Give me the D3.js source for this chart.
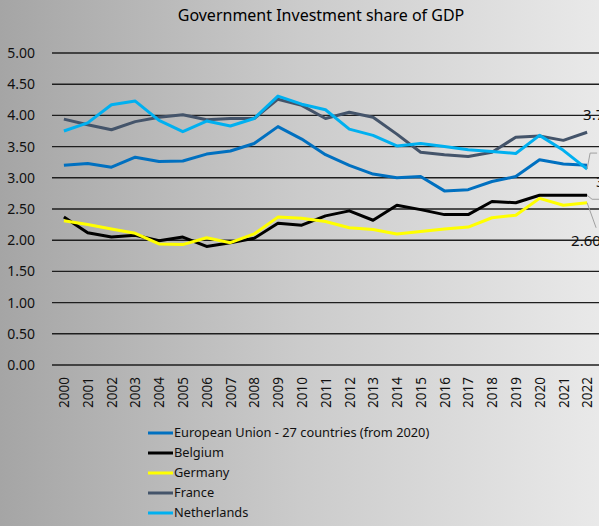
<!DOCTYPE html>
<html>
<head>
<meta charset="utf-8">
<script src="https://cdn.jsdelivr.net/npm/d3@7"></script>
<style>
  body { margin: 0; overflow: hidden; }
  svg { display: block; font-family: "Noto Sans", "Open Sans", sans-serif; }
</style>
</head>
<body>
<div id="chart"></div>
<script>
// data
const years = ["2000","2001","2002","2003","2004","2005","2006","2007","2008","2009","2010",
               "2011","2012","2013","2014","2015","2016","2017","2018","2019","2020","2021","2022"];
const seriesNames = ["European Union - 27 countries (from 2020)", "Belgium", "Germany", "France", "Netherlands"];
const euValues = [3.20,3.23,3.17,3.33,3.26,3.27,3.38,3.43,3.55,3.82,3.62,3.37,3.20,3.06,3.00,3.02,2.79,2.81,2.94,3.02,3.29,3.22,3.20];
const belgiumValues = [2.37,2.12,2.05,2.08,1.99,2.05,1.90,1.96,2.03,2.27,2.24,2.39,2.47,2.32,2.56,2.49,2.41,2.41,2.62,2.60,2.72,2.72,2.72];
const germanyValues = [2.31,2.25,2.18,2.11,1.94,1.93,2.04,1.96,2.10,2.37,2.35,2.30,2.20,2.17,2.10,2.14,2.18,2.21,2.36,2.40,2.67,2.56,2.60];
const franceValues = [3.94,3.85,3.77,3.90,3.97,4.01,3.93,3.95,3.95,4.26,4.16,3.95,4.05,3.97,3.70,3.41,3.37,3.34,3.41,3.65,3.67,3.60,3.73];
const netherlandsValues = [3.75,3.88,4.17,4.23,3.92,3.74,3.91,3.83,3.95,4.31,4.18,4.09,3.78,3.68,3.51,3.55,3.50,3.45,3.42,3.39,3.68,3.44,3.14];
const yTicks = [0, 0.5, 1, 1.5, 2, 2.5, 3, 3.5, 4, 4.5, 5];
const colors = ["#0070C0", "#000000", "#FFFF00", "#44546A", "#00B0F0"];

const allValues = [euValues, belgiumValues, germanyValues, franceValues, netherlandsValues];
const series = seriesNames.map((name, i) => ({
    name: name,
    color: colors[i],
    values: years.map((y, j) => ({year: y, value: allValues[i][j]}))
}));

const W = 599, H = 526;
const margin = {top: 53, right: 0, bottom: 161, left: 52};

const svg = d3.select("#chart").append("svg")
    .attr("width", W)
    .attr("height", H);

// background gradient
const grad = svg.append("defs").append("linearGradient")
    .attr("id", "bg").attr("x1", "0%").attr("x2", "100%").attr("y1", "0%").attr("y2", "0%");
grad.append("stop").attr("offset", "0%").attr("stop-color", "#a5a5a5");
grad.append("stop").attr("offset", "50%").attr("stop-color", "#cbcbcb");
grad.append("stop").attr("offset", "100%").attr("stop-color", "#e9e9e9");
svg.append("rect").attr("width", W).attr("height", H).attr("fill", "url(#bg)");

// scales
const x = d3.scalePoint().domain(years).range([margin.left, W - margin.right]).padding(0.5);
const y = d3.scaleLinear().domain([0, 5]).range([H - margin.bottom, margin.top]);

// title
svg.append("text")
    .attr("x", 321).attr("y", 21)
    .attr("text-anchor", "middle")
    .style("font-size", "16px")
    .attr("fill", "#000")
    .text("Government Investment share of GDP");

// gridlines
svg.append("g")
    .selectAll("line")
    .data(yTicks)
    .enter().append("line")
    .attr("x1", margin.left).attr("x2", W)
    .attr("y1", d => y(d)).attr("y2", d => y(d))
    .attr("stroke", "#1e1e1e")
    .attr("stroke-width", 1.4);

// y axis labels
const yAxis = svg.append("g")
    .attr("transform", "translate(" + (margin.left - 14) + ",0)")
    .call(d3.axisLeft(y).tickValues(yTicks).tickFormat(d3.format(".2f")).tickSize(0));
yAxis.select(".domain").remove();
yAxis.selectAll("text")
    .style("font-size", "14px")
    .style("font-family", "\"Noto Sans\", sans-serif")
    .attr("fill", "#111");

// x axis labels (rotated)
const xAxis = svg.append("g")
    .attr("transform", "translate(0," + (H - margin.bottom) + ")")
    .call(d3.axisBottom(x).tickSize(0));
xAxis.select(".domain").remove();
xAxis.selectAll("text")
    .style("font-size", "13.5px")
    .style("font-family", "\"Noto Sans\", sans-serif")
    .attr("fill", "#111")
    .attr("transform", "rotate(-90)")
    .attr("text-anchor", "end")
    .attr("x", -12)
    .attr("y", 0)
    .attr("dy", "0.35em");

// lines
const line = d3.line()
    .x(d => x(d.year))
    .y(d => y(d.value));

svg.append("g")
    .selectAll("path")
    .data(series)
    .enter().append("path")
    .attr("fill", "none")
    .attr("stroke", d => d.color)
    .attr("stroke-width", 3)
    .attr("stroke-linejoin", "round")
    .attr("d", d => line(d.values));

// end labels with leader lines (clipped by the right edge, as in the source)
const lastX = x(years[years.length - 1]);
const labelStyle = sel => sel.style("font-size", "15px").attr("fill", "#111");

// France
svg.append("text").call(labelStyle)
    .attr("x", lastX - 4).attr("y", y(3.73) - 12)
    .text(d3.format(".2f")(franceValues[22]));

// Netherlands
const nlY = y(netherlandsValues[22]);
svg.append("path")
    .attr("fill", "none").attr("stroke", "#a0a0a0").attr("stroke-width", 1)
    .attr("d", "M" + lastX + "," + nlY + " L" + (lastX + 3) + "," + (nlY - 16) + " L" + (lastX + 10) + "," + (nlY - 16));
svg.append("text").call(labelStyle)
    .attr("x", lastX + 9).attr("y", nlY + 18)
    .text(d3.format(".2f")(netherlandsValues[22]));

// Belgium
const beY = y(belgiumValues[22]);
svg.append("path")
    .attr("fill", "none").attr("stroke", "#a0a0a0").attr("stroke-width", 1)
    .attr("d", "M" + lastX + "," + beY + " L" + (lastX + 5) + "," + (beY + 4) + " L" + (lastX + 14) + "," + (beY + 4));

// Germany
const deY = y(germanyValues[22]);
svg.append("path")
    .attr("fill", "none").attr("stroke", "#a0a0a0").attr("stroke-width", 1)
    .attr("d", "M" + lastX + "," + deY + " L" + (lastX + 9) + "," + (deY + 25));
svg.append("text").call(labelStyle)
    .attr("x", lastX - 16).attr("y", deY + 43)
    .text(d3.format(".2f")(germanyValues[22]));

// legend
const legend = svg.append("g")
    .selectAll("g")
    .data(series)
    .enter().append("g")
    .attr("transform", (d, i) => "translate(148," + (433 + i * 20) + ")");
legend.append("line")
    .attr("x1", 0).attr("x2", 25)
    .attr("stroke", d => d.color)
    .attr("stroke-width", 3);
legend.append("text")
    .attr("x", 26).attr("dy", "0.35em")
    .style("font-size", "12.8px")
    .attr("fill", "#111")
    .text(d => d.name);
</script>
</body>
</html>
